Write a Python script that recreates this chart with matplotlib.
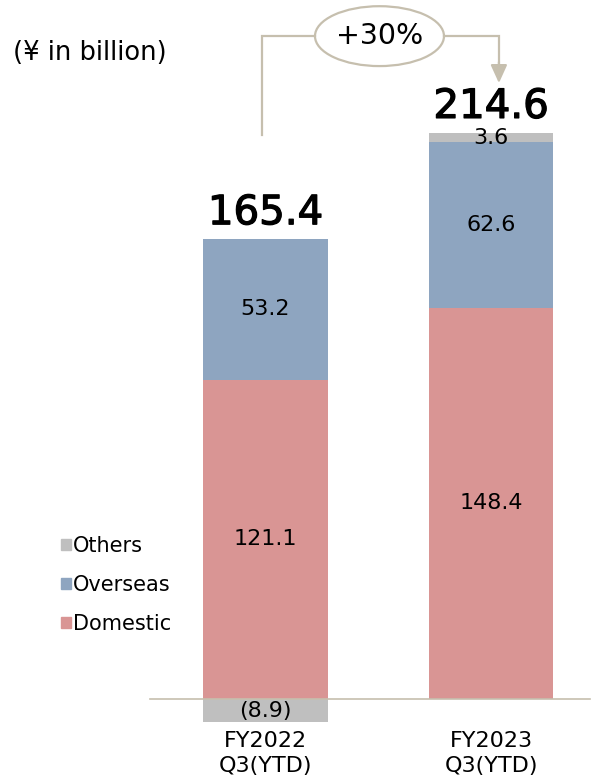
import matplotlib.pyplot as plt
import matplotlib.patheffects as pe
from matplotlib.patches import Ellipse, Patch

plt.rcParams['font.family'] = ['DejaVu Sans', 'Noto Sans CJK JP']

periods = ["FY2022\nQ3(YTD)", "FY2023\nQ3(YTD)"]
domestic = [121.1, 148.4]
overseas = [53.2, 62.6]
others = [-8.9, 3.6]
totals = [165.4, 214.6]
growth_label = "+30%"
unit_label = "(¥ in billion)"

c_dom = "#D99594"
c_ovs = "#8EA5C0"
c_oth = "#BFBFBF"
c_line = "#C6BFAE"

fig = plt.figure(figsize=(5.95, 7.81), dpi=100)
ax = fig.add_axes([0, 0, 1, 1])
ax.set_xlim(-1.177, 1.461)
ax.set_ylim(-31.08, 265.0)
ax.axis("off")

x = [0, 1]
w = 0.554
ax.bar(x, domestic, w, color=c_dom, label="Domestic")
ax.bar(x, overseas, w, bottom=domestic, color=c_ovs, label="Overseas")
# others sit on top when positive, below the axis when negative
oth_bottom = [d + o if v > 0 else 0 for d, o, v in zip(domestic, overseas, others)]
ax.bar(x, others, w, bottom=oth_bottom, color=c_oth, label="Others")

ax.axhline(0, xmin=0.252, xmax=0.992, color=c_line, lw=1.2)

fs = 16
for i in range(2):
    ax.text(x[i], domestic[i] / 2, f"{domestic[i]:.1f}", ha="center", va="center", fontsize=fs)
    ax.text(x[i], domestic[i] + overseas[i] / 2, f"{overseas[i]:.1f}", ha="center", va="center", fontsize=fs)
    ob = oth_bottom[i] + others[i] / 2
    lbl = f"({abs(others[i]):.1f})" if others[i] < 0 else f"{others[i]:.1f}"
    ax.text(x[i], ob, lbl, ha="center", va="center", fontsize=fs)
    top = domestic[i] + overseas[i] + max(others[i], 0)
    ax.text(x[i], top + 5.7, f"{totals[i]:.1f}", ha="center", va="baseline", fontsize=29,
            path_effects=[pe.withStroke(linewidth=0.9, foreground="black")])
    ax.text(x[i], -12, periods[i], ha="center", va="top", fontsize=16, linespacing=1.35)

ax.text(-1.177 + 13 / 225.5, 244.9, unit_label, ha="left", va="center", fontsize=18.5)

# growth bracket
xl, xr = x[0] - 0.015, x[1] + 0.035
yb = 251.3
ex, ew, eh = 0.5055, 0.572, 22.7
ax.plot([xl, xl, ex - ew / 2], [213.8, yb, yb], color=c_line, lw=1.6, solid_joinstyle="miter")
ax.plot([ex + ew / 2, xr, xr], [yb, yb, 240], color=c_line, lw=1.6, solid_joinstyle="miter")
ax.annotate("", xy=(xr, 233.5), xytext=(xr, 241.5),
            arrowprops=dict(arrowstyle="-|>,head_width=0.5,head_length=1.1", color=c_line,
                            lw=1.6, shrinkA=0, shrinkB=0))
ax.add_patch(Ellipse((ex, yb), ew, eh, facecolor="white", edgecolor=c_line, lw=1.6))
ax.text(ex, yb, growth_label, ha="center", va="center", fontsize=20.5)

handles = [Patch(color=c_oth), Patch(color=c_ovs), Patch(color=c_dom)]
ax.legend(handles, ["Others", "Overseas", "Domestic"], loc="upper left",
          bbox_to_anchor=(0.1025, 0.3135), frameon=False, fontsize=15,
          borderpad=0, borderaxespad=0,
          handlelength=0.46, handleheight=0.46, handletextpad=0.1, labelspacing=0.9)

fig.savefig("out.png", dpi=100)
